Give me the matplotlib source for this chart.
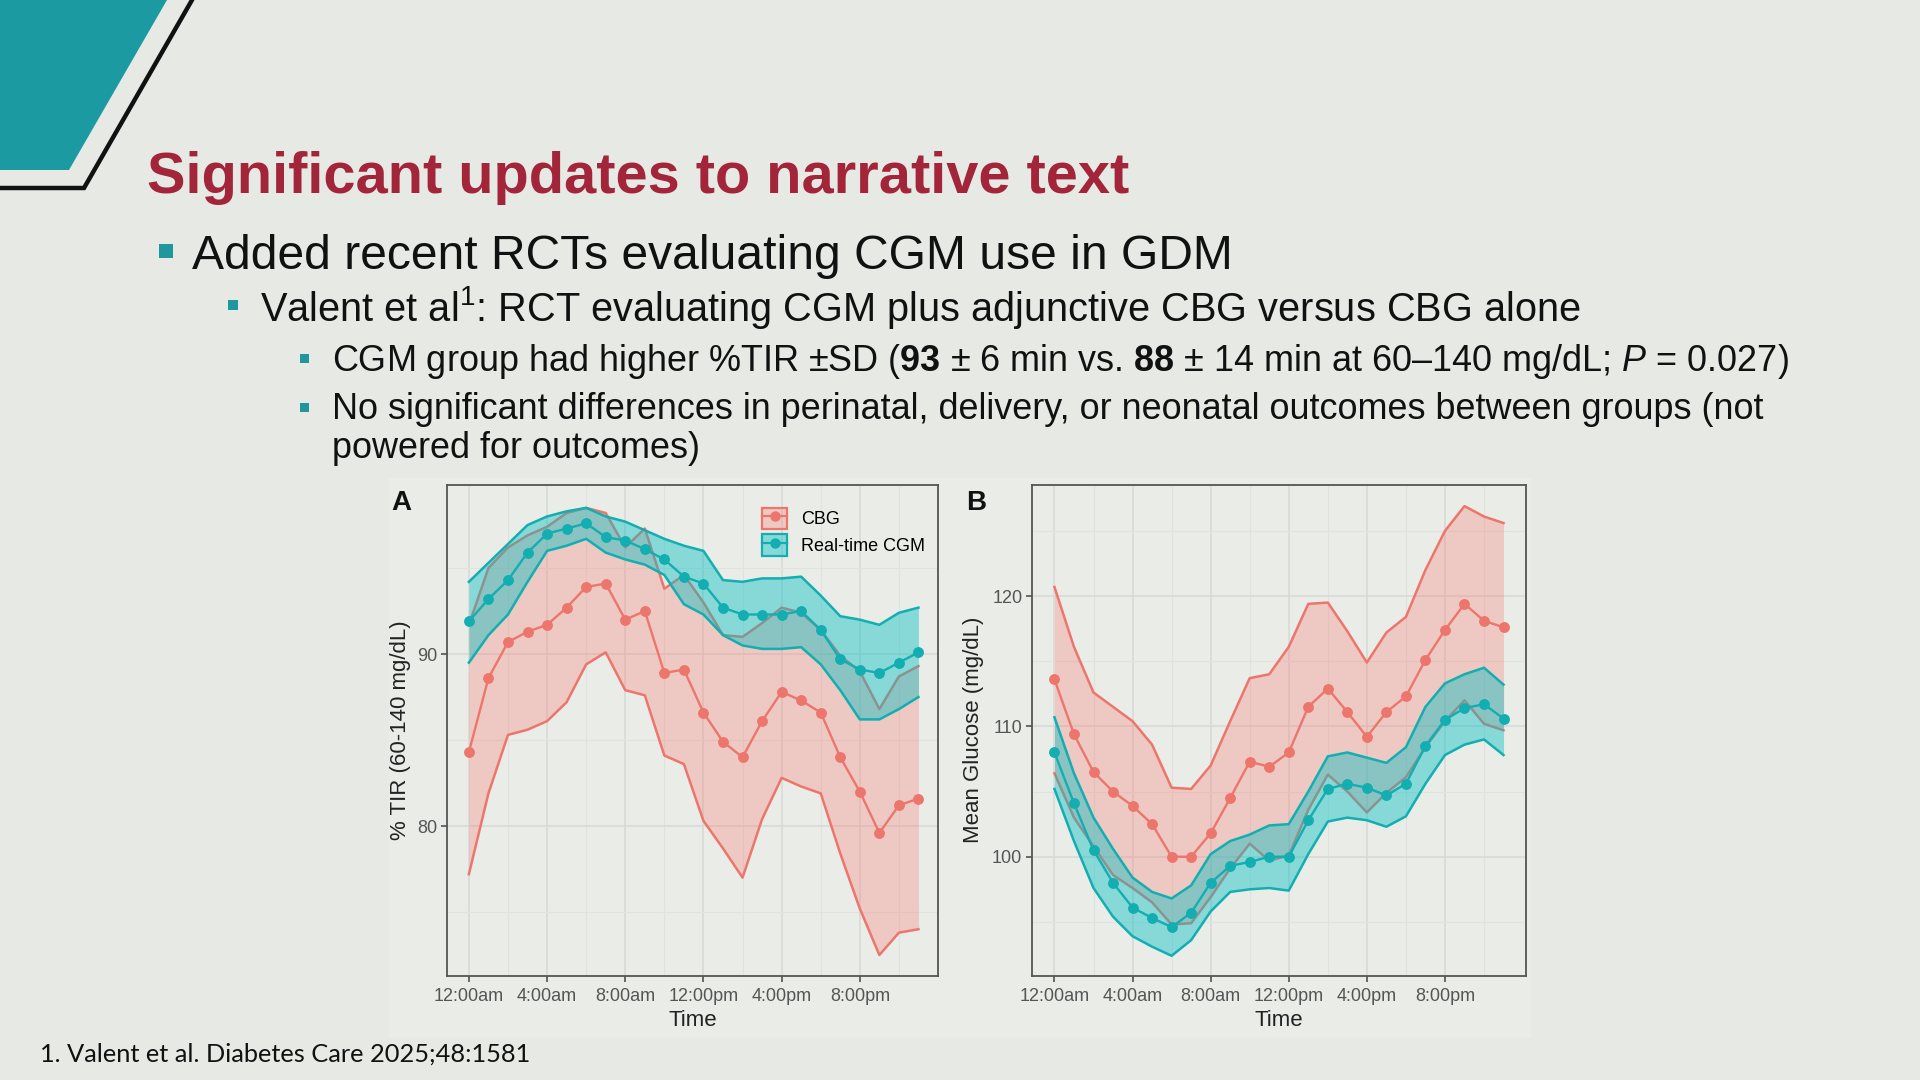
import matplotlib
matplotlib.use("Agg")
import matplotlib.pyplot as plt
from matplotlib.patches import Polygon, Rectangle, Patch
from matplotlib.lines import Line2D
from matplotlib.legend_handler import HandlerTuple
from matplotlib.colors import to_rgba

# ---------------- data ----------------
hours = list(range(24))
tick_hours = [0, 4, 8, 12, 16, 20]
tick_labels = ["12:00am", "4:00am", "8:00am", "12:00pm", "4:00pm", "8:00pm"]
groups = ["CBG", "Real-time CGM"]

# Panel A: % TIR (60-140 mg/dL)
cbg_tir_mean = [84.3, 88.6, 90.7, 91.3, 91.7, 92.7, 93.9, 94.1, 92.0, 92.5, 88.9, 89.1,
                86.6, 84.9, 84.0, 86.1, 87.8, 87.3, 86.6, 84.0, 82.0, 79.6, 81.2, 81.6]
cbg_tir_lo = [77.2, 81.9, 85.3, 85.6, 86.1, 87.2, 89.4, 90.1, 87.9, 87.6, 84.1, 83.6,
              80.3, 78.7, 77.0, 80.4, 82.8, 82.3, 81.9, 78.4, 75.2, 72.5, 73.8, 74.0]
cbg_tir_hi = [91.7, 95.0, 96.2, 96.9, 97.4, 98.2, 98.5, 98.2, 96.2, 97.3, 93.8, 94.6,
              93.0, 91.1, 91.0, 91.8, 92.7, 92.4, 91.4, 89.9, 89.0, 86.8, 88.7, 89.3]
cgm_tir_mean = [91.9, 93.2, 94.3, 95.9, 97.0, 97.3, 97.6, 96.8, 96.6, 96.1, 95.5, 94.5,
                94.1, 92.7, 92.3, 92.3, 92.3, 92.5, 91.4, 89.7, 89.1, 88.9, 89.5, 90.1]
cgm_tir_lo = [89.5, 91.1, 92.3, 94.2, 96.0, 96.3, 96.7, 95.9, 95.5, 95.2, 94.6, 92.9,
              92.3, 91.1, 90.5, 90.3, 90.3, 90.4, 89.4, 87.9, 86.2, 86.2, 86.8, 87.5]
cgm_tir_hi = [94.2, 95.3, 96.4, 97.5, 98.0, 98.3, 98.5, 98.0, 97.7, 97.2, 96.7, 96.3,
              96.0, 94.3, 94.2, 94.4, 94.4, 94.5, 93.4, 92.2, 92.0, 91.7, 92.4, 92.7]

# Panel B: mean glucose (mg/dL)
cbg_glu_mean = [113.6, 109.4, 106.5, 105.0, 103.9, 102.5, 100.0, 100.0, 101.8, 104.5, 107.3, 106.9,
                108.0, 111.5, 112.9, 111.1, 109.2, 111.1, 112.3, 115.1, 117.4, 119.4, 118.1, 117.6]
cbg_glu_lo = [106.4, 103.0, 100.8, 98.6, 97.6, 96.5, 94.8, 94.9, 96.9, 99.1, 101.0, 99.7,
              100.1, 103.6, 106.3, 105.0, 103.4, 104.9, 106.1, 108.4, 110.4, 112.0, 110.2, 109.7]
cbg_glu_hi = [120.7, 116.1, 112.6, 111.5, 110.4, 108.6, 105.3, 105.2, 107.0, 110.4, 113.7, 114.0,
              116.1, 119.4, 119.5, 117.3, 114.9, 117.2, 118.4, 122.0, 125.0, 126.9, 126.1, 125.6]
cgm_glu_mean = [108.0, 104.1, 100.5, 98.0, 96.1, 95.3, 94.6, 95.7, 98.0, 99.3, 99.6, 100.0,
                100.0, 102.8, 105.2, 105.6, 105.3, 104.7, 105.6, 108.5, 110.5, 111.4, 111.7, 110.6]
cgm_glu_lo = [105.2, 101.2, 97.6, 95.4, 93.9, 93.1, 92.4, 93.6, 95.8, 97.3, 97.5, 97.6,
              97.4, 100.2, 102.7, 103.0, 102.8, 102.3, 103.1, 105.6, 107.8, 108.6, 109.0, 107.8]
cgm_glu_hi = [110.7, 106.4, 103.0, 100.6, 98.4, 97.3, 96.8, 97.8, 100.2, 101.2, 101.7, 102.4,
              102.5, 105.0, 107.7, 108.0, 107.6, 107.2, 108.4, 111.5, 113.3, 114.0, 114.5, 113.2]

# ---------------- styling ----------------
plt.rcParams["font.family"] = ["Liberation Sans", "DejaVu Sans"]
plt.rcParams["mathtext.fontset"] = "custom"
plt.rcParams["mathtext.rm"] = "Liberation Sans"
plt.rcParams["mathtext.bf"] = "Liberation Sans:bold"
plt.rcParams["mathtext.it"] = "Liberation Sans:italic"

W, H = 1920, 1080
BG = "#e7e9e5"
CHART_BG = "#eaece8"
TEAL_SLIDE = "#1b9ba1"
TITLE_RED = "#a3253a"
CBG_LINE = "#ec766c"
CBG_FILL = "#f8766d"
CGM_LINE = "#13aeb1"
CGM_FILL = "#00bfc4"

fig = plt.figure(figsize=(W / 100, H / 100), dpi=100)
fig.patch.set_facecolor(BG)
renderer = fig.canvas.get_renderer()

bg = fig.add_axes([0, 0, 1, 1])
bg.set_xlim(0, W)
bg.set_ylim(H, 0)
bg.axis("off")

# chart image backdrop (very subtle)
bg.add_patch(Rectangle((389, 478), 1142, 560, facecolor=CHART_BG, edgecolor="none", zorder=0))
# corner decoration
bg.add_patch(Polygon([(0, 0), (167, 0), (69, 170), (0, 170)], closed=True,
                     facecolor=TEAL_SLIDE, edgecolor="none", zorder=1))
bg.plot([192, 84, 0], [0, 188, 188], color="#111111", lw=3.2, solid_joinstyle="miter", zorder=1)

# bullet squares
for (x, y, s) in [(159, 244, 14), (228, 300, 10), (300, 354, 9), (300, 403, 9)]:
    bg.add_patch(Rectangle((x, y), s, s, facecolor="#1f979d", edgecolor="none", zorder=2))


def put_text(x, y, s, target_w=None, size=30, **kw):
    t = fig.text(x / W, 1 - y / H, s, fontsize=size, ha="left", va="baseline", **kw)
    if target_w is not None:
        bb = t.get_window_extent(renderer=renderer)
        t.set_fontsize(size * target_w / bb.width)
    return t


put_text(147, 193, "Significant updates to narrative text", target_w=983,
         fontweight="bold", color=TITLE_RED)
put_text(192, 269, "Added recent RCTs evaluating CGM use in GDM", target_w=1039, color="#111111")
put_text(260, 321, r"Valent et al$^{\mathrm{1}}$: RCT evaluating CGM plus adjunctive CBG versus CBG alone",
         target_w=1321, color="#111111")
t3 = put_text(332, 371,
              r"CGM group had higher %TIR ±SD ($\mathbf{93}$ ± 6 min vs. $\mathbf{88}$ ± 14 min at "
              r"60–140 mg/dL; $\mathit{P}$ = 0.027)", target_w=1456, color="#111111")
fs3 = t3.get_fontsize()
put_text(332, 419, "No significant differences in perinatal, delivery, or neonatal outcomes between groups (not",
         size=fs3, color="#111111")
put_text(332, 458, "powered for outcomes)", size=fs3, color="#111111")
put_text(40, 1062, "1. Valent et al. Diabetes Care 2025;48:1581", target_w=490,
         family=["Lato", "DejaVu Sans"], color="#111111")


def make_panel(rect, xlim, ylim, yticks, yminor, series):
    ax = fig.add_axes(rect)
    ax.set_facecolor("none")
    ax.set_xlim(*xlim)
    ax.set_ylim(*ylim)
    ax.set_xticks(tick_hours)
    ax.set_xticklabels(tick_labels)
    ax.set_xticks([h + 2 for h in tick_hours], minor=True)
    ax.set_yticks(yticks)
    ax.set_yticks(yminor, minor=True)
    ax.grid(which="major", color="#d6d9d5", lw=1.1)
    ax.grid(which="minor", color="#dfe2de", lw=0.8)
    ax.set_axisbelow(True)
    ax.tick_params(which="major", length=4, width=1.1, color="#444444",
                   labelsize=13, labelcolor="#555555", pad=3)
    ax.tick_params(axis="x", which="major", pad=4.5)
    ax.tick_params(which="minor", length=0)
    for sp in ax.spines.values():
        sp.set_color("#555555")
        sp.set_linewidth(1.3)
    z = 2
    for (mean, lo, hi, lc, fc, alpha) in series:
        ax.fill_between(hours, lo, hi, color=fc, alpha=alpha, lw=0, zorder=z)
        ax.plot(hours, lo, color=lc, lw=1.8, zorder=z + 0.1)
        ax.plot(hours, hi, color=lc, lw=1.8, zorder=z + 0.1)
        z += 1
    for (mean, lo, hi, lc, fc, alpha) in series:
        ax.plot(hours, mean, color=lc, lw=1.7, marker="o", ms=6.8, zorder=6)
    return ax


axA = make_panel([447 / W, (H - 976) / H, 491 / W, 491 / H], (-1.12, 24.0), (71.28, 99.83),
                 [80, 90], [75, 85, 95],
                 [(cbg_tir_mean, cbg_tir_lo, cbg_tir_hi, CBG_LINE, CBG_FILL, 0.3),
                  (cgm_tir_mean, cgm_tir_lo, cgm_tir_hi, CGM_LINE, CGM_FILL, 0.42)])
axB = make_panel([1032 / W, (H - 976) / H, 494 / W, 491 / H], (-1.15, 24.15), (90.85, 128.52),
                 [100, 110, 120], [95, 105, 115, 125],
                 [(cbg_glu_mean, cbg_glu_lo, cbg_glu_hi, CBG_LINE, CBG_FILL, 0.3),
                  (cgm_glu_mean, cgm_glu_lo, cgm_glu_hi, CGM_LINE, CGM_FILL, 0.42)])

handles = [
    (Patch(facecolor=to_rgba(CBG_FILL, 0.3), edgecolor=CBG_LINE, lw=1.6),
     Line2D([], [], color=CBG_LINE, lw=1.6, marker="o", ms=6.5)),
    (Patch(facecolor=to_rgba(CGM_FILL, 0.42), edgecolor=CGM_LINE, lw=1.6),
     Line2D([], [], color=CGM_LINE, lw=1.6, marker="o", ms=6.5)),
]
axA.legend(handles, groups, handler_map={tuple: HandlerTuple(ndivide=1)},
           loc="upper left", bbox_to_anchor=(0.6415, 0.954), frameon=False,
           borderpad=0, borderaxespad=0, handlelength=1.4, handleheight=1.45,
           handletextpad=0.75, labelspacing=0.3, fontsize=13)

# panel letters and axis titles
fig.text(391 / W, 1 - 510 / H, "A", fontsize=20, fontweight="bold", color="#111111",
         ha="left", va="baseline")
fig.text(966 / W, 1 - 510 / H, "B", fontsize=20, fontweight="bold", color="#111111",
         ha="left", va="baseline")
fig.text(400.5 / W, 1 - 730 / H, "% TIR (60-140 mg/dL)", fontsize=16, rotation=90,
         ha="center", va="center", color="#222222")
fig.text(974 / W, 1 - 730 / H, "Mean Glucose (mg/dL)", fontsize=16, rotation=90,
         ha="center", va="center", color="#222222")
fig.text(692.5 / W, 1 - 1021 / H, "Time", fontsize=16, ha="center", va="center", color="#222222")
fig.text(1279 / W, 1 - 1021 / H, "Time", fontsize=16, ha="center", va="center", color="#222222")

fig.savefig("out.png", dpi=100, facecolor=fig.get_facecolor())
